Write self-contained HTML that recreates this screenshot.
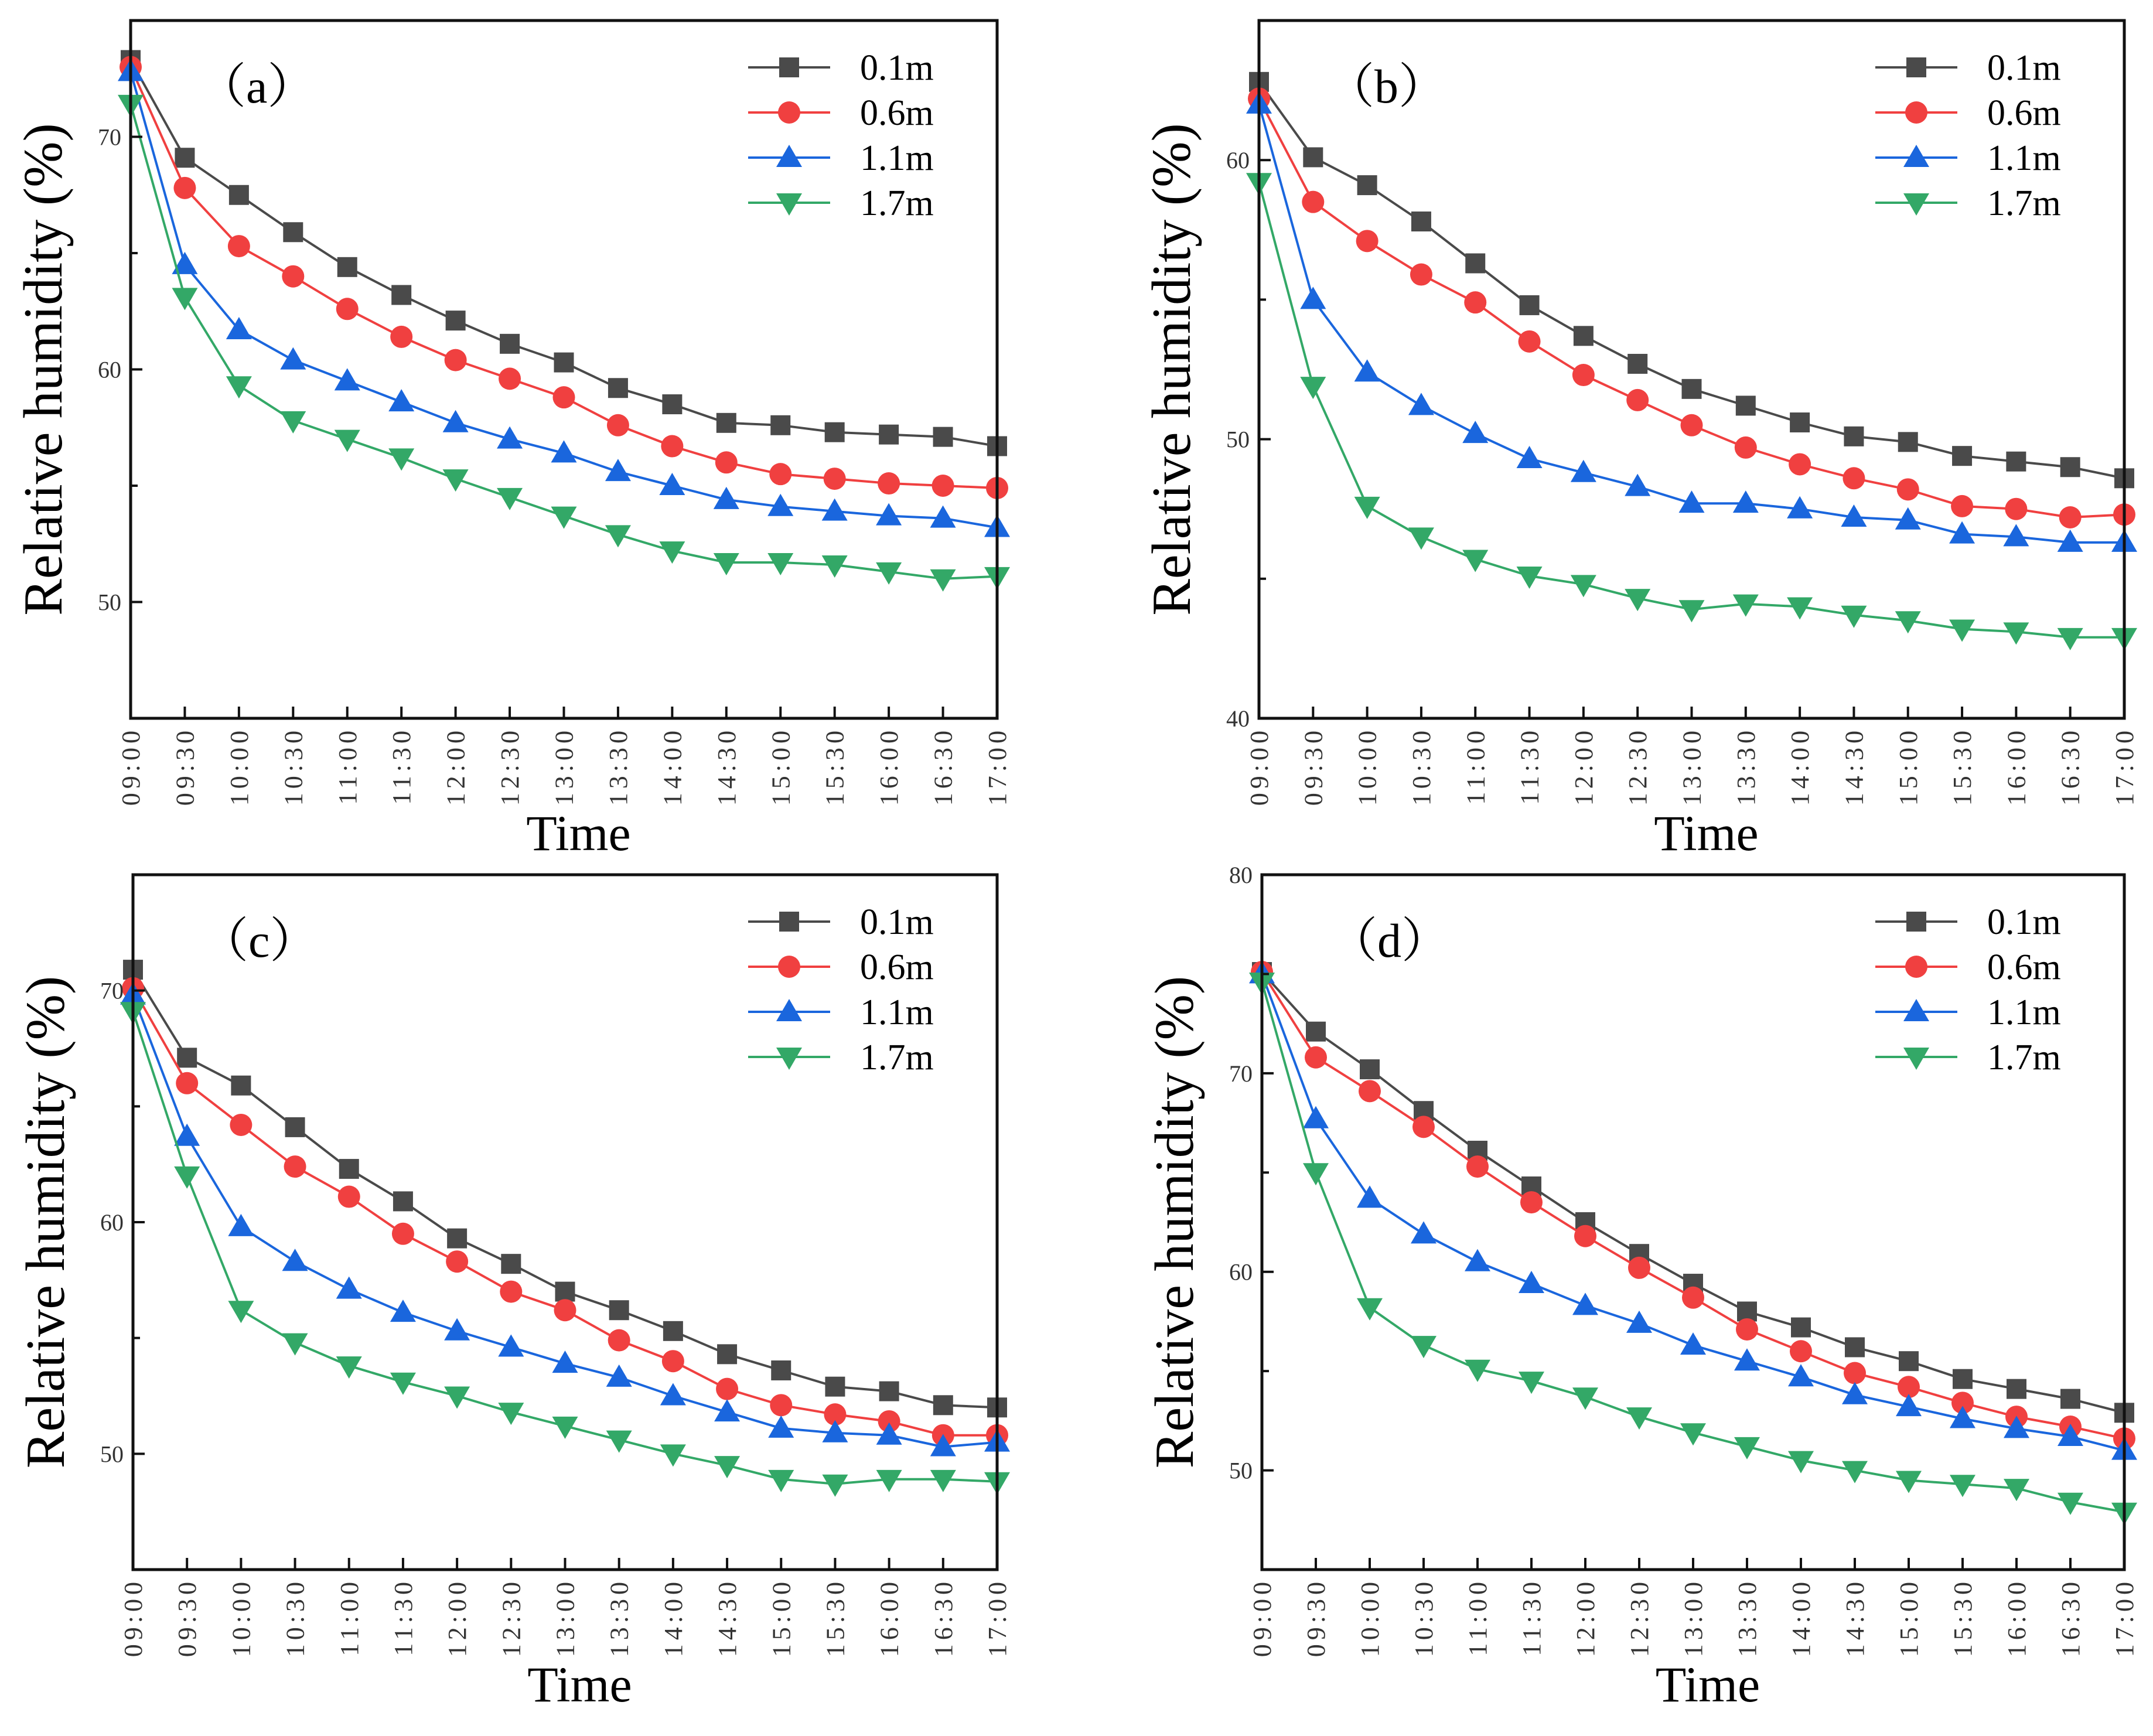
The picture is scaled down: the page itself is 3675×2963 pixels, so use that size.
<!DOCTYPE html>
<html><head><meta charset="utf-8"><style>
html,body{margin:0;padding:0;background:#fff;}
svg{display:block;}
</style></head><body>
<svg id="fig" xmlns="http://www.w3.org/2000/svg" width="3675" height="2963" viewBox="0 0 3675 2963"></svg>
<script>
const timeLabels = ["09:00","09:30","10:00","10:30","11:00","11:30","12:00","12:30","13:00","13:30","14:00","14:30","15:00","15:30","16:00","16:30","17:00"];
const seriesNames = ["0.1m","0.6m","1.1m","1.7m"];

const a01 = [73.3,69.1,67.5,65.9,64.4,63.2,62.1,61.1,60.3,59.2,58.5,57.7,57.6,57.3,57.2,57.1,56.7];
const a06 = [73.0,67.8,65.3,64.0,62.6,61.4,60.4,59.6,58.8,57.6,56.7,56.0,55.5,55.3,55.1,55.0,54.9];
const a11 = [72.8,64.5,61.7,60.4,59.5,58.6,57.7,57.0,56.4,55.6,55.0,54.4,54.1,53.9,53.7,53.6,53.2];
const a17 = [71.4,63.1,59.3,57.8,57.0,56.2,55.3,54.5,53.7,52.9,52.2,51.7,51.7,51.6,51.3,51.0,51.1];

const b01 = [62.8,60.1,59.1,57.8,56.3,54.8,53.7,52.7,51.8,51.2,50.6,50.1,49.9,49.4,49.2,49.0,48.6];
const b06 = [62.2,58.5,57.1,55.9,54.9,53.5,52.3,51.4,50.5,49.7,49.1,48.6,48.2,47.6,47.5,47.2,47.3];
const b11 = [62.0,55.0,52.4,51.2,50.2,49.3,48.8,48.3,47.7,47.7,47.5,47.2,47.1,46.6,46.5,46.3,46.3];
const b17 = [59.2,51.9,47.6,46.5,45.7,45.1,44.8,44.3,43.9,44.1,44.0,43.7,43.5,43.2,43.1,42.9,42.9];

const c01 = [70.9,67.1,65.9,64.1,62.3,60.9,59.3,58.2,57.0,56.2,55.3,54.3,53.6,52.9,52.7,52.1,52.0];
const c06 = [70.1,66.0,64.2,62.4,61.1,59.5,58.3,57.0,56.2,54.9,54.0,52.8,52.1,51.7,51.4,50.8,50.8];
const c11 = [69.8,63.7,59.8,58.3,57.1,56.1,55.3,54.6,53.9,53.3,52.5,51.8,51.1,50.9,50.8,50.3,50.5];
const c17 = [69.1,62.0,56.2,54.8,53.8,53.1,52.5,51.8,51.2,50.6,50.0,49.5,48.9,48.7,48.9,48.9,48.8];

const d01 = [75.1,72.1,70.2,68.1,66.1,64.3,62.5,60.9,59.4,58.0,57.2,56.2,55.5,54.6,54.1,53.6,52.9];
const d06 = [75.1,70.8,69.1,67.3,65.3,63.5,61.8,60.2,58.7,57.1,56.0,54.9,54.2,53.4,52.7,52.2,51.6];
const d11 = [75.0,67.7,63.7,61.9,60.5,59.4,58.3,57.4,56.3,55.5,54.7,53.8,53.2,52.6,52.1,51.7,51.0];
const d17 = [74.6,65.0,58.2,56.3,55.1,54.5,53.7,52.7,51.9,51.2,50.5,50.0,49.5,49.3,49.1,48.4,47.9];

const aTicks = [50,60,70];
const bTicks = [40,50,60];
const cTicks = [50,60,70];
const dTicks = [50,60,70,80];

const colors = ["#4a4a4a","#f04040","#1a66dd","#33a867"];
const markers = ["square","circle","up","down"];
const NS = "http://www.w3.org/2000/svg";
const svg = document.getElementById("fig");

function mk(tag, attrs, parent){
  const e = document.createElementNS(NS, tag);
  for (const k in attrs) e.setAttribute(k, attrs[k]);
  (parent||svg).appendChild(e);
  return e;
}
function marker(g, type, x, y, color){
  let e;
  if (type==="square"){ e = mk("rect",{x:x-17,y:y-17,width:34,height:34,fill:color},g); }
  else if (type==="circle"){ e = mk("circle",{cx:x,cy:y,r:19,fill:color},g); }
  else if (type==="up"){ e = mk("polygon",{points:`${x},${y-22} ${x+22},${y+16} ${x-22},${y+16}`,fill:color},g); }
  else { e = mk("polygon",{points:`${x},${y+22} ${x+22},${y-16} ${x-22},${y-16}`,fill:color},g); }
  return e;
}

const panels = [
  {id:"a", label:"（a）", L:223, R:1702, T:35, B:1226, ymin:45, ymax:75, ticks:aTicks, minor:5, data:[a01,a06,a11,a17]},
  {id:"b", label:"（b）", L:2149, R:3626, T:35, B:1226, ymin:40, ymax:65, ticks:bTicks, minor:5, data:[b01,b06,b11,b17]},
  {id:"c", label:"（c）", L:227, R:1702, T:1493, B:2679, ymin:45, ymax:75, ticks:cTicks, minor:5, data:[c01,c06,c11,c17]},
  {id:"d", label:"（d）", L:2154, R:3626, T:1493, B:2679, ymin:45, ymax:80, ticks:dTicks, minor:5, data:[d01,d06,d11,d17]}
];

panels.forEach(p=>{
  const g = mk("g",{});
  
  
  const xs = i => p.L + (p.R-p.L)*i/(timeLabels.length-1);
  const ys = v => p.B - (v-p.ymin)/(p.ymax-p.ymin)*(p.B-p.T);

  p.data.forEach((arr,si)=>{
    const sg = mk("g",{},g);
    
    
    const pts = arr.map((v,i)=>xs(i).toFixed(1)+","+ys(v).toFixed(1)).join(" ");
    const line = mk("polyline",{points:pts,fill:"none",stroke:colors[si],"stroke-width":4,"stroke-linejoin":"round"},sg);
    
    
    arr.forEach((v,i)=>{
      const m = marker(sg, markers[si], xs(i), ys(v), colors[si]);
      
      
    });
  });

  const fr = mk("rect",{x:p.L,y:p.T,width:p.R-p.L,height:p.B-p.T,fill:"none",stroke:"#111","stroke-width":5},g);
  
  

  timeLabels.forEach((t,i)=>{
    const x = xs(i);
    const tk = mk("line",{x1:x,y1:p.B,x2:x,y2:p.B-20,stroke:"#111","stroke-width":4},g);
    
    
    const tx = mk("text",{x:0,y:0,transform:`translate(${x+15},${p.B+14}) rotate(-90)`,"text-anchor":"end","font-family":"Liberation Serif, serif","font-size":44,fill:"#333","letter-spacing":"7"},g);
    tx.textContent = t;
    
    
  });
  for (let v=Math.ceil(p.ymin/p.minor)*p.minor; v<=p.ymax; v+=p.minor){
    const y = ys(v);
    const major = p.ticks.includes(v);
    const tk = mk("line",{x1:p.L,y1:y,x2:p.L+(major?20:12),y2:y,stroke:"#111","stroke-width":4},g);
    
    
  }
  p.ticks.forEach(v=>{
    const tx = mk("text",{x:p.L-16,y:ys(v)+14,"text-anchor":"end","font-family":"Liberation Serif, serif","font-size":40,fill:"#333"},g);
    tx.textContent = v;
    
    
  });

  const yt = mk("text",{x:0,y:0,transform:`translate(${p.L-118},${(p.T+p.B)/2}) rotate(-90)`,"text-anchor":"middle","font-family":"Liberation Serif, serif","font-size":94,fill:"#000"},g);
  yt.textContent = "Relative humidity (%)";
  
  
  const xt = mk("text",{x:(p.L+p.R)/2+25,y:p.B+225,"text-anchor":"middle","font-family":"Liberation Serif, serif","font-size":86,fill:"#000"},g);
  xt.textContent = "Time";
  
  

  const pl = mk("text",{x:p.L+115,y:p.T+140,"font-family":"Liberation Serif, 'Noto Serif CJK SC', serif","font-size":82,fill:"#000"},g);
  pl.textContent = p.label;
  
  

  const lg = mk("g",{},g);
  
  
  seriesNames.forEach((n,si)=>{
    const y = p.T + 80 + si*77;
    const eg = mk("g",{},lg);
    
    
    mk("line",{x1:p.R-425,y1:y,x2:p.R-285,y2:y,stroke:colors[si],"stroke-width":4},eg);
    marker(eg, markers[si], p.R-355, y, colors[si]);
    const t = mk("text",{x:p.R-234,y:y+21,"font-family":"Liberation Serif, serif","font-size":62,fill:"#000"},eg);
    t.textContent = n;
  });
});
</script>
</body></html>
